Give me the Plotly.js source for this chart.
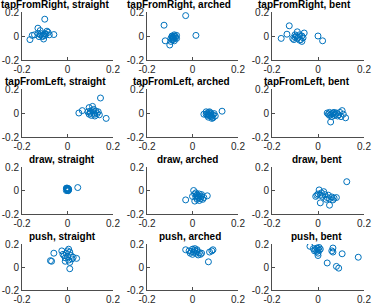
<!DOCTYPE html>
<html><head><meta charset="utf-8">
<script src="https://cdn.plot.ly/plotly-3.0.1.min.js"></script>
<style>html,body{margin:0;padding:0;background:#fff}#chart{width:374px;height:304px}</style>
</head><body><div id="chart"></div>
<script>
var gestures = ['tapFromRight', 'tapFromLeft', 'draw', 'push'];
var postures = ['straight', 'arched', 'bent'];
var tickVals = [-0.2, 0, 0.2];
var tickText = ['-0.2', '0', '0.2'];

// tapFromRight
var tapRightStraightX = [-0.10,-0.13,-0.06,-0.165,-0.155,-0.145,-0.12,-0.115,-0.11,-0.105,-0.10,-0.095,-0.09,-0.085,-0.12,-0.125,-0.10,-0.08,-0.11,-0.13];
var tapRightStraightY = [0.14,0.065,0.012,-0.03,0.005,0.01,0.01,0.02,-0.005,-0.025,0.005,0.015,0.04,0.03,0.045,-0.005,0.02,0.01,0.0,0.02];
var tapRightArchedX = [-0.03,-0.125,0.015,-0.12,-0.10,-0.09,-0.085,-0.08,-0.075,-0.07,-0.095,-0.09,-0.08,-0.085,-0.075,-0.095,-0.07,-0.08,-0.09,-0.085];
var tapRightArchedY = [0.17,0.09,0.005,-0.04,-0.075,-0.03,-0.01,0.0,-0.015,0.005,-0.02,0.0,-0.04,-0.02,-0.005,-0.045,-0.02,0.01,-0.01,-0.03];
var tapRightBentX = [-0.125,-0.135,-0.16,-0.09,-0.06,0.0,0.02,-0.07,-0.10,-0.095,-0.09,-0.085,-0.08,-0.105,-0.11,-0.075,-0.07,-0.065,-0.10,-0.08];
var tapRightBentY = [0.085,0.015,-0.02,0.035,0.025,0.0,-0.04,-0.045,-0.01,0.0,-0.02,-0.01,0.01,-0.03,-0.02,-0.03,0.0,-0.015,0.01,-0.035];
// tapFromLeft
var tapLeftStraightX = [0.145,0.17,0.05,0.065,0.095,0.11,0.09,0.10,0.105,0.11,0.115,0.12,0.125,0.13,0.14,0.095,0.115,0.10,0.12,0.135];
var tapLeftStraightY = [0.125,-0.045,0.0,0.02,0.045,0.055,0.01,0.0,-0.02,0.02,0.0,-0.01,0.015,-0.005,-0.015,-0.01,0.03,0.015,-0.025,0.01];
var tapLeftArchedX = [0.13,0.05,0.06,0.065,0.07,0.075,0.08,0.085,0.09,0.095,0.065,0.07,0.08,0.085,0.10,0.06,0.075,0.09,0.07,0.08];
var tapLeftArchedY = [0.015,-0.01,0.01,-0.005,0.005,-0.02,-0.01,-0.03,-0.015,-0.005,-0.02,-0.035,0.0,-0.045,-0.025,-0.01,0.01,-0.04,-0.015,-0.025];
var tapLeftBentX = [0.055,0.105,0.12,0.04,0.045,0.05,0.055,0.06,0.065,0.07,0.075,0.08,0.085,0.09,0.095,0.10,0.11,0.06,0.07,0.05];
var tapLeftBentY = [-0.075,0.02,-0.04,0.0,-0.01,0.005,-0.015,-0.005,0.0,-0.02,-0.01,0.0,-0.025,-0.015,0.005,-0.03,-0.01,-0.03,0.005,-0.02];
// draw
var drawStraightX = [0.045,-0.005,0.0,0.0,0.005,-0.005,0.0,0.005,-0.003,0.002,0.0,0.003,-0.002,0.004,0.0];
var drawStraightY = [0.025,0.02,0.015,0.01,0.005,0.0,0.0,0.01,0.018,0.005,0.02,-0.002,0.008,0.015,0.005];
var drawArchedX = [-0.03,0.005,0.065,0.01,0.0,0.01,0.015,0.02,0.025,0.03,0.035,0.04,0.045,0.05,0.02,0.015,0.03,0.04,0.025,0.035];
var drawArchedY = [-0.08,0.0,-0.045,-0.09,-0.05,-0.03,-0.02,-0.04,-0.06,-0.03,-0.07,-0.05,-0.075,-0.06,-0.075,-0.055,-0.085,-0.035,-0.045,-0.055];
var drawBentX = [0.125,0.05,0.01,0.08,-0.01,0.005,0.025,0.0,0.01,0.02,0.03,0.04,0.045,0.05,0.06,0.065,0.07,0.015,-0.005,0.035];
var drawBentY = [0.075,-0.125,-0.105,-0.06,-0.05,0.005,-0.01,-0.03,-0.04,-0.05,-0.035,-0.06,-0.04,-0.07,-0.055,-0.08,-0.065,-0.02,-0.04,-0.075];
// push
var pushStraightX = [0.01,-0.07,-0.06,-0.075,-0.025,0.005,0.04,-0.015,-0.01,-0.005,0.0,0.005,0.01,0.015,0.02,-0.02,0.0,0.025,-0.01,0.01];
var pushStraightY = [-0.015,0.05,0.12,0.055,0.14,0.155,0.075,0.10,0.08,0.12,0.09,0.06,0.13,0.10,0.07,0.11,0.14,0.085,0.05,0.04];
var pushArchedX = [0.07,-0.03,0.085,0.09,0.075,-0.015,-0.01,0.0,0.005,0.01,0.015,0.02,0.025,0.03,0.035,0.0,0.01,-0.005,0.02,0.04];
var pushArchedY = [0.045,0.15,0.14,0.15,0.13,0.14,0.12,0.155,0.13,0.145,0.12,0.135,0.105,0.125,0.11,0.11,0.16,0.135,0.15,0.12];
var pushBentX = [-0.035,0.175,0.105,0.065,0.065,0.04,0.08,0.09,0.0,-0.01,-0.005,0.0,0.005,0.0,-0.015,0.005,0.01,-0.005,0.06,-0.02];
var pushBentY = [0.18,0.085,0.115,0.165,0.13,0.035,0.005,-0.01,0.10,0.15,0.135,0.16,0.17,0.12,0.14,0.145,0.155,0.165,0.14,0.16];

var panelX = [
  [tapRightStraightX, tapRightArchedX, tapRightBentX],
  [tapLeftStraightX, tapLeftArchedX, tapLeftBentX],
  [drawStraightX, drawArchedX, drawBentX],
  [pushStraightX, pushArchedX, pushBentX]
];
var panelY = [
  [tapRightStraightY, tapRightArchedY, tapRightBentY],
  [tapLeftStraightY, tapLeftArchedY, tapLeftBentY],
  [drawStraightY, drawArchedY, drawBentY],
  [pushStraightY, pushArchedY, pushBentY]
];

var W = 374, H = 304;
var colPx = [[22, 113], [147, 238], [272, 364]];
var rowPx = [[12, 60], [89, 137], [167, 214], [244, 290]];
// horizontal nudges of the panel titles (px), as placed in the reference
var titleShift = [[-12.5, -13, -13.5], [-12, -10.5, -11], [-6, -4.5, -1.5], [-5.5, -2.5, -1.5]];

var traces = [];
var layout = {
  width: W, height: H,
  margin: {l: 0, r: 0, t: 0, b: 0},
  paper_bgcolor: '#fff', plot_bgcolor: '#fff',
  showlegend: false,
  font: {family: 'Liberation Sans, Arial, sans-serif', size: 10, color: '#262626'},
  annotations: []
};
var n = 0;
for (var r = 0; r < 4; r++) {
  for (var c = 0; c < 3; c++) {
    n++;
    var xa = n === 1 ? 'xaxis' : 'xaxis' + n;
    var ya = n === 1 ? 'yaxis' : 'yaxis' + n;
    traces.push({
      type: 'scatter', mode: 'markers',
      x: panelX[r][c], y: panelY[r][c],
      xaxis: n === 1 ? 'x' : 'x' + n, yaxis: n === 1 ? 'y' : 'y' + n,
      marker: {symbol: 'circle-open', size: 6, color: '#0072BD', line: {width: 1, color: '#0072BD'}},
      hoverinfo: 'none'
    });
    var common = {
      range: [-0.2, 0.2], tickvals: tickVals, ticktext: tickText,
      showgrid: false, zeroline: false, showline: true, linecolor: '#4d4d4d', linewidth: 1,
      ticks: 'inside', ticklen: 3, tickcolor: '#4d4d4d', mirror: false,
      tickfont: {size: 10, color: '#262626'}, fixedrange: true
    };
    layout[xa] = Object.assign({}, common, {
      domain: [colPx[c][0] / W, colPx[c][1] / W],
      anchor: n === 1 ? 'y' : 'y' + n
    });
    layout[ya] = Object.assign({}, common, {
      domain: [1 - rowPx[r][1] / H, 1 - rowPx[r][0] / H],
      anchor: n === 1 ? 'x' : 'x' + n
    });
    layout.annotations.push({
      xref: 'paper', yref: 'paper',
      x: (colPx[c][0] + colPx[c][1]) / 2 / W,
      y: 1 - (rowPx[r][0] - 14) / H,
      xanchor: 'center', yanchor: 'top', showarrow: false,
      xshift: titleShift[r][c], borderpad: 0,
      text: '<b>' + gestures[r] + ', ' + postures[c] + '</b>',
      font: {size: 10, color: '#000'}
    });
  }
}
Plotly.newPlot('chart', traces, layout, {staticPlot: true, displayModeBar: false});
</script></body></html>
